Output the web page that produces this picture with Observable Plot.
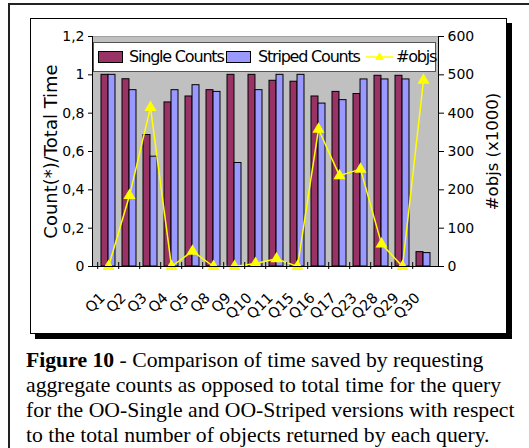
<!DOCTYPE html>
<html><head><meta charset="utf-8">
<script src="https://cdn.jsdelivr.net/npm/d3@7"></script>
<script src="https://cdn.jsdelivr.net/npm/@observablehq/plot@0.6"></script>
<style>
body{margin:0;width:529px;height:448px;overflow:hidden;background:#fff;position:relative;font-family:"DejaVu Sans",sans-serif;}
#outer{position:absolute;left:8px;top:3px;width:600px;height:600px;border-left:2px solid #222;border-top:2px solid #222;}
#frame{position:absolute;left:30px;top:18px;width:475px;height:314px;border:1px solid #000;box-shadow:5px 5px 0 #000;background:#fff;}
#chart{position:absolute;left:0;top:0;}
#legend{position:absolute;left:93px;top:42px;width:343px;height:30px;background:#fff;border:1px solid #555;box-sizing:border-box;}
#legend .sw{position:absolute;top:8px;width:25px;height:12px;border:1px solid #000;box-sizing:border-box;}
#legend .lt{position:absolute;top:4px;font-size:16px;letter-spacing:-1.2px;line-height:19px;white-space:nowrap;}
#legend svg{position:absolute;left:272px;top:5px;}
#caption{position:absolute;left:26px;top:348px;font-family:"Liberation Serif",serif;font-size:21.7px;line-height:25px;white-space:nowrap;color:#000;}
</style></head>
<body>
<div id="outer"></div>
<div id="frame"></div>
<div id="chart"></div>
<div id="legend">
  <div class="sw" style="left:4px;background:#993366"></div><div class="lt" style="left:35px">Single Counts</div>
  <div class="sw" style="left:132px;background:#9999ff"></div><div class="lt" style="left:164px">Striped Counts</div>
  <svg width="28" height="18"><line x1="0" y1="9" x2="27" y2="9" stroke="#ffff00" stroke-width="1.5"/><path d="M13.5,4 L18,12 L9,12 Z" fill="#ffff00"/></svg>
  <div class="lt" style="left:302px">#objs</div>
</div>
<div id="caption"><b>Figure 10</b> - Comparison of time saved by requesting<br>aggregate counts as opposed to total time for the query<br>for the OO-Single and OO-Striped versions with respect<br>to the total number of objects returned by each query.</div>
<script>
const categories = ["Q1","Q2","Q3","Q4","Q5","Q8","Q9","Q10","Q11","Q15","Q16","Q17","Q23","Q28","Q29","Q30"];
const singleCounts = [1.0,0.977,0.686,0.856,0.887,0.92,1.0,1.0,0.969,0.964,0.887,0.911,0.90,0.995,0.995,0.075];
const stripedCounts = [1.0,0.92,0.573,0.92,0.946,0.911,0.54,0.92,1.0,1.0,0.85,0.868,0.976,0.976,0.976,0.07];
const objs = [0,185,415,0,40,0,0,8,20,0,358,237,254,59,0,486];
const leftTicks = [0,0.2,0.4,0.6,0.8,1,1.2];
const rightTicks = [0,100,200,300,400,500,600];
const rightMax = 600, leftMax = 1.2;
const k = rightMax / leftMax;

const W = 529, H = 340, mL = 92, mR = 91, mT = 36, mB = 74;
const step = (W - mL - mR) / categories.length;
const barW = step * 0.65 / 2;

const single = categories.map((c, i) => ({c, v: singleCounts[i]}));
const striped = categories.map((c, i) => ({c, v: stripedCounts[i]}));
const line = categories.map((c, i) => ({c, v: objs[i] / k}));

const plot = Plot.plot({
  width: W, height: H,
  marginLeft: mL, marginRight: mR, marginTop: mT, marginBottom: mB,
  style: {background: "transparent", fontFamily: "DejaVu Sans", color: "#000"},
  x: {domain: categories, paddingInner: 0.35, paddingOuter: 0.175, axis: null},
  y: {domain: [0, leftMax], axis: null},
  marks: [
    Plot.frame({fill: "#c0c0c0", stroke: "#a0a0a0"}),
    Plot.barY(single, {x: "c", y: "v", fill: "#993366", stroke: "#000", strokeWidth: 1, insetRight: barW}),
    Plot.barY(striped, {x: "c", y: "v", fill: "#9999ff", stroke: "#000", strokeWidth: 1, insetLeft: barW}),
    Plot.line(line, {x: "c", y: "v", stroke: "#ffff00", strokeWidth: 1.5}),
    Plot.dot(line, {x: "c", y: "v", symbol: "triangle", r: 4.5, fill: "#ffff00", stroke: "none"}),
    Plot.frame({anchor: "left", stroke: "#000"}),
    Plot.frame({anchor: "right", stroke: "#000"}),
    Plot.ruleY([0], {stroke: "#000"}),
    Plot.axisX({ticks: categories, tickSize: 7, dy: -4, dx: -step / 2, tickFormat: () => "", label: null, stroke: "#000"}),
    Plot.axisX({tickSize: 0, tickRotate: -45, tickPadding: 29, dx: -6, fontSize: 14.5, label: null, fill: "#000"}),
    Plot.axisY({anchor: "left", ticks: leftTicks, tickSize: 4, tickPadding: 4, fontSize: 14, label: null,
      tickFormat: d => String(d).replace(".", ","), fill: "#000"}),
    Plot.axisY({anchor: "right", ticks: rightTicks.map(v => v / k), tickSize: 5, tickPadding: 4, fontSize: 14, label: null,
      tickFormat: d => String(Math.round(d * k)), fill: "#000"}),
    Plot.text(["Count(*)/Total Time"], {frameAnchor: "left", textAnchor: "middle", dx: -41, rotate: -90, fontSize: 18, fill: "#000"}),
    Plot.text(["#objs (x1000)"], {frameAnchor: "right", textAnchor: "middle", dx: 54, rotate: -90, fontSize: 16.5, fill: "#000"})
  ]
});
document.getElementById("chart").appendChild(plot);
</script>
</body></html>
